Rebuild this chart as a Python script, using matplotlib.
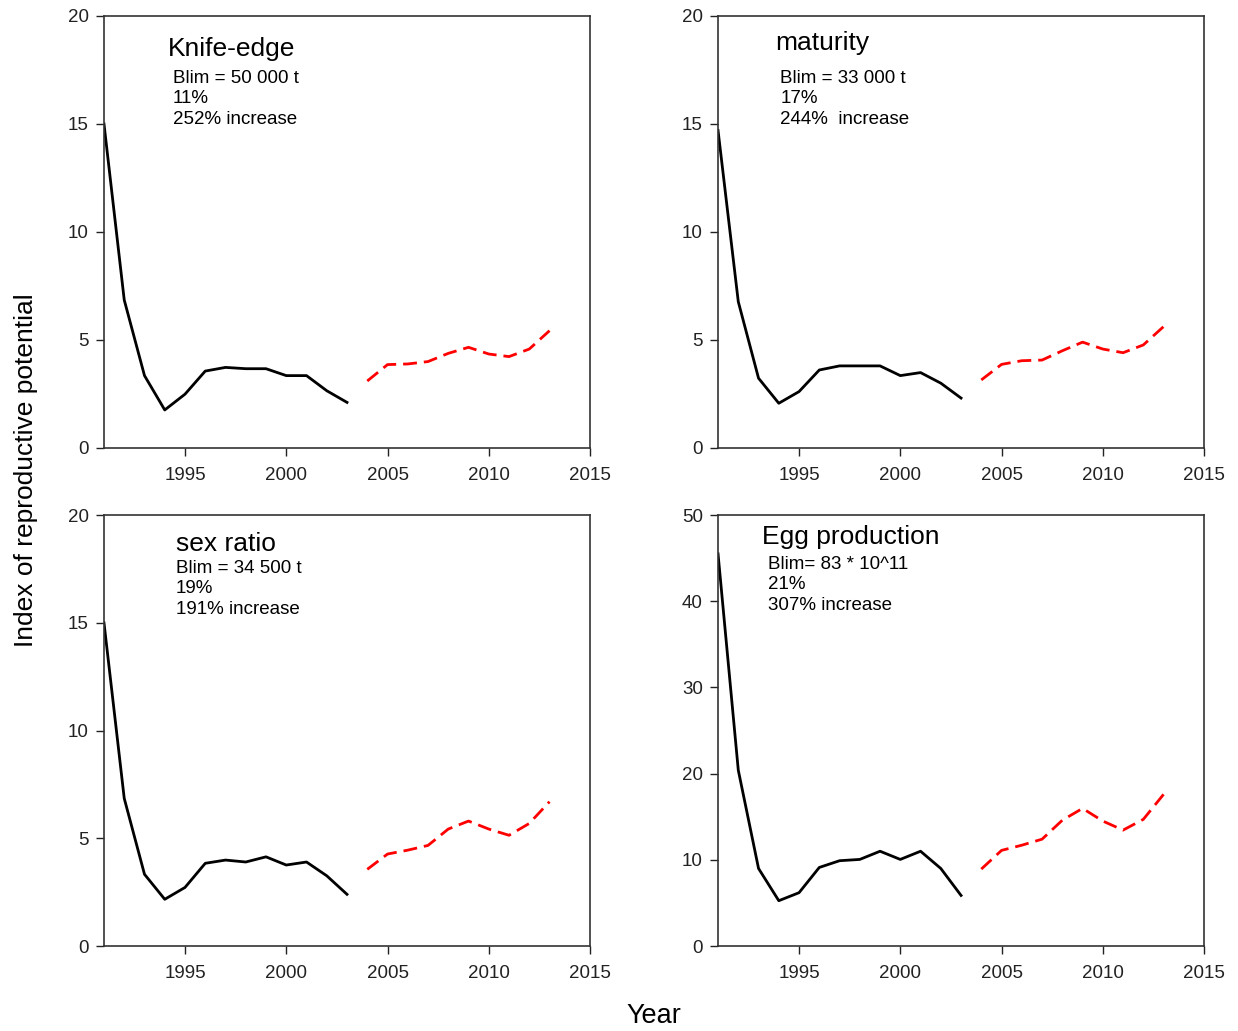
import numpy as np
import matplotlib
matplotlib.use("Agg")
import matplotlib.pyplot as plt

plt.rcParams["font.family"] = ["Liberation Sans", "DejaVu Sans"]

years_obs = np.arange(1991, 2004)
years_proj = np.arange(2004, 2014)

knife_obs = [15.0, 6.85, 3.35, 1.76, 2.49, 3.56, 3.73, 3.67, 3.67, 3.35, 3.35, 2.65, 2.11]
knife_proj = [3.10, 3.86, 3.89, 4.00, 4.38, 4.66, 4.35, 4.23, 4.58, 5.43]

mat_obs = [14.7, 6.77, 3.23, 2.07, 2.61, 3.61, 3.80, 3.80, 3.80, 3.35, 3.49, 3.00, 2.31]
mat_proj = [3.15, 3.87, 4.04, 4.07, 4.50, 4.90, 4.58, 4.41, 4.77, 5.62]

sex_obs = [15.0, 6.85, 3.33, 2.17, 2.72, 3.84, 3.99, 3.90, 4.14, 3.76, 3.90, 3.26, 2.40]
sex_proj = [3.56, 4.27, 4.45, 4.67, 5.43, 5.80, 5.43, 5.14, 5.69, 6.70]

egg_obs = [45.5, 20.4, 9.0, 5.26, 6.19, 9.12, 9.9, 10.05, 11.0, 10.05, 11.0, 9.0, 5.87]
egg_proj = [8.93, 11.1, 11.7, 12.4, 14.6, 15.97, 14.5, 13.45, 14.7, 17.6]

titles = ["Knife-edge", "maturity", "sex ratio", "Egg production"]
notes = [
    ["Blim = 50 000 t", "11%", "252% increase"],
    ["Blim = 33 000 t", "17%", "244%  increase"],
    ["Blim = 34 500 t", "19%", "191% increase"],
    ["Blim= 83 * 10^11", "21%", "307% increase"],
]
ymax = [20, 20, 20, 50]
ystep = [5, 5, 5, 10]

fig = plt.figure(figsize=(12.38, 10.31), dpi=100)
w, h = 0.3926, 0.419
positions = [
    [0.084, 0.5655, w, h],
    [0.580, 0.5655, w, h],
    [0.084, 0.0824, w, 0.418],
    [0.580, 0.0824, w, 0.418],
]
# title pos (x, y) and note pos (x, first y) in axes fraction
title_xy = [(0.132, 0.924), (0.117, 0.9375), (0.148, 0.933), (0.0905, 0.949)]
note_xy = [(0.142, 0.856), (0.128, 0.856), (0.148, 0.877), (0.103, 0.886)]

obs = [knife_obs, mat_obs, sex_obs, egg_obs]
proj = [knife_proj, mat_proj, sex_proj, egg_proj]

for i in range(4):
    ax = fig.add_axes(positions[i])
    ax.plot(years_obs, obs[i], color="black", lw=2)
    ax.plot(years_proj, proj[i], color="red", lw=2, dashes=(5, 2.5))
    ax.set_xlim(1991, 2015)
    ax.set_ylim(0, ymax[i])
    ax.set_xticks([1995, 2000, 2005, 2010, 2015])
    ax.set_yticks(np.arange(0, ymax[i] + 1, ystep[i]))
    ax.tick_params(direction="out", length=6, width=1, labelsize=13.5,
                   top=False, right=False, colors="#222222")
    ax.tick_params(axis="x", pad=8)
    ax.tick_params(axis="y", pad=5)
    for s in ax.spines.values():
        s.set_linewidth(1.2)
        s.set_color("#333333")
    tx, ty = title_xy[i]
    ax.text(tx, ty, titles[i], transform=ax.transAxes, fontsize=19,
            va="center", ha="left")
    nx, ny = note_xy[i]
    for k, line in enumerate(notes[i]):
        ax.text(nx, ny - k * 0.048, line, transform=ax.transAxes,
                fontsize=13.5, va="center", ha="left")

fig.text(0.021, 0.544, "Index of reproductive potential", rotation=90,
         fontsize=19, va="center", ha="center")
fig.text(0.528, 0.0145, "Year", fontsize=19.5, va="center", ha="center")

fig.savefig("out.png", dpi=100)
